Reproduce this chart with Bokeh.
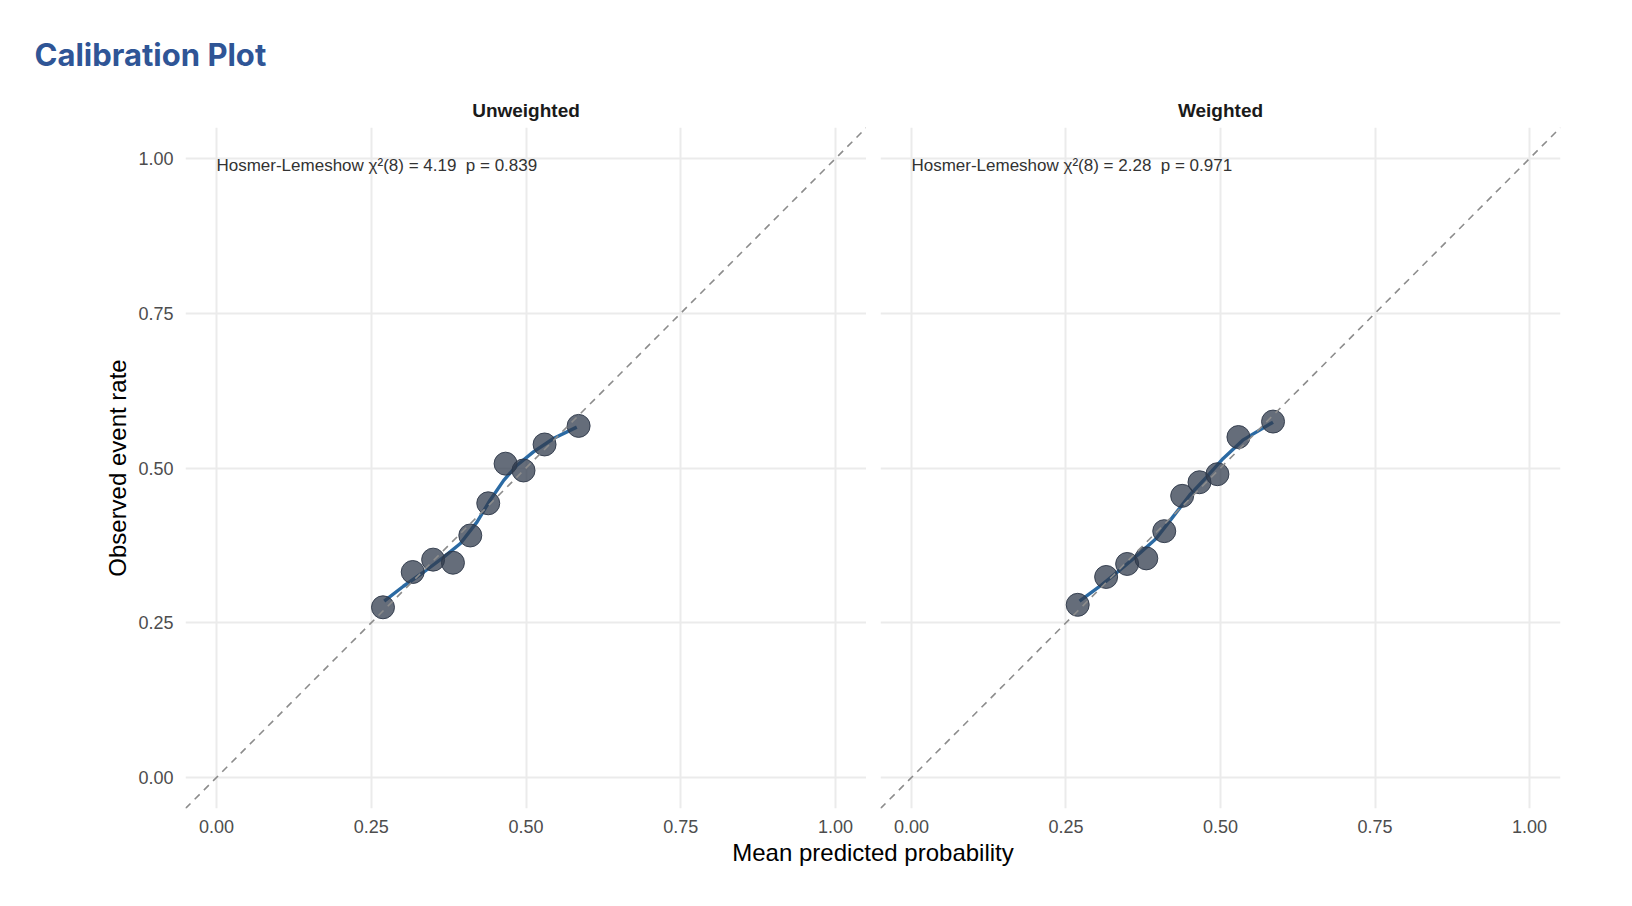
from bokeh.plotting import figure
from bokeh.models import Range1d, FixedTicker, Slope, Title, Label, ColumnDataSource, NumeralTickFormatter
from bokeh.layouts import row, column
from bokeh.embed import file_html
from bokeh.resources import INLINE
from bokeh.core.properties import value

# binned calibration points (mean predicted vs observed)
pred_unweighted = [0.269, 0.317, 0.350, 0.382, 0.410, 0.439, 0.467, 0.496, 0.530, 0.585]
obs_unweighted = [0.275, 0.332, 0.352, 0.347, 0.391, 0.443, 0.507, 0.496, 0.538, 0.568]
pred_weighted = [0.269, 0.315, 0.349, 0.380, 0.409, 0.438, 0.466, 0.495, 0.529, 0.585]
obs_weighted = [0.279, 0.324, 0.345, 0.354, 0.398, 0.455, 0.477, 0.490, 0.550, 0.575]

# smoothed curve through the points
smooth_x_unweighted = [0.271, 0.302, 0.335, 0.367, 0.394, 0.421, 0.442, 0.464, 0.485, 0.512, 0.545, 0.582]
smooth_y_unweighted = [0.285, 0.309, 0.332, 0.356, 0.378, 0.413, 0.448, 0.480, 0.504, 0.526, 0.548, 0.566]
smooth_x_weighted = [0.272, 0.305, 0.337, 0.369, 0.396, 0.423, 0.450, 0.477, 0.504, 0.536, 0.585]
smooth_y_weighted = [0.285, 0.309, 0.335, 0.362, 0.386, 0.421, 0.456, 0.485, 0.515, 0.545, 0.574]

panel_names = ["Unweighted", "Weighted"]
# second gap is a no-break space so the double spacing survives in SVG
hl_texts = ["Hosmer-Lemeshow \u03c7\u00b2(8) = 4.19 \u00a0p = 0.839",
            "Hosmer-Lemeshow \u03c7\u00b2(8) = 2.28 \u00a0p = 0.971"]
ticks = [0.0, 0.25, 0.5, 0.75, 1.0]

FONT = "Liberation Sans"
GRID = "#ebebeb"


def make_panel(name, pred, obs, sx, sy, hl, first):
    p = figure(frame_width=681 if first else 680, frame_height=681,
               x_range=Range1d(-0.05, 1.05), y_range=Range1d(-0.05, 1.05),
               min_border_left=185 if first else 14, min_border_right=0 if first else 56,
               min_border_top=39, min_border_bottom=32,
               output_backend="svg", toolbar_location=None)
    p.outline_line_color = None
    p.background_fill_color = "white"

    # facet strip label
    p.add_layout(Title(text=name, align="center", text_font=FONT, text_font_style="bold",
                       text_font_size="19px", text_color="#1a1a1a", standoff=13), "above")

    for ax in (p.xaxis, p.yaxis):
        ax.ticker = FixedTicker(ticks=ticks)
        ax.formatter = NumeralTickFormatter(format="0.00")
        ax.axis_line_color = None
        ax.major_tick_line_color = None
        ax.minor_tick_line_color = None
        ax.major_label_text_font = FONT
        ax.major_label_text_font_size = "18px"
        ax.major_label_text_color = "#4d4d4d"
    p.xaxis.major_label_standoff = 5
    p.yaxis.major_label_standoff = 6

    p.xgrid.ticker = FixedTicker(ticks=ticks)
    p.ygrid.ticker = FixedTicker(ticks=ticks)
    p.grid.grid_line_color = GRID
    p.grid.grid_line_width = 2

    if first:
        p.yaxis.axis_label = "Observed event rate"
        p.yaxis.axis_label_text_font = FONT
        p.yaxis.axis_label_text_font_size = "24px"
        p.yaxis.axis_label_text_font_style = "normal"
        p.yaxis.axis_label_text_color = "black"
        p.yaxis.axis_label_standoff = 4
    else:
        p.yaxis.visible = False

    # perfect calibration reference
    p.add_layout(Slope(gradient=1, y_intercept=0, line_color="#8c8c8c",
                       line_width=1.6, line_dash="7 6"))

    p.line(sx, sy, line_color="#2b6aa3", line_width=3.4, line_join="round")

    src = ColumnDataSource(data=dict(pred=pred, obs=obs))
    p.scatter("pred", "obs", source=src, size=23, fill_color="#323c4d", fill_alpha=0.75,
              line_color="#2d3748", line_alpha=0.9, line_width=1)

    p.text(x=[0.0], y=[1.0], text=[hl], text_font=value(FONT), text_font_size="17px",
           text_color="#333333", text_baseline="top", text_align="left", y_offset=-2)
    return p


p1 = make_panel(panel_names[0], pred_unweighted, obs_unweighted,
                smooth_x_unweighted, smooth_y_unweighted, hl_texts[0], True)
p2 = make_panel(panel_names[1], pred_weighted, obs_weighted,
                smooth_x_weighted, smooth_y_weighted, hl_texts[1], False)


def text_strip(h):
    t = figure(width=1616, height=h, x_range=Range1d(0, 1616), y_range=Range1d(0, h),
               min_border=0, x_axis_location=None, y_axis_location=None,
               output_backend="svg", toolbar_location=None)
    t.outline_line_color = None
    t.grid.visible = False
    return t


top = text_strip(88)
top.add_layout(Label(x=34, y=34, text="Calibration Plot", text_font="Inter",
                     text_font_style="bold", text_font_size="31px", text_color="#2f5596",
                     text_baseline="alphabetic", text_align="left"))

bottom = text_strip(50)
bottom.add_layout(Label(x=872.5, y=38, text="Mean predicted probability", text_font=FONT,
                        text_font_size="24px", text_color="black",
                        text_baseline="middle", text_align="center"))

layout = column(top, row(p1, p2), bottom)

open("out.html", "w").write(file_html(layout, INLINE))
